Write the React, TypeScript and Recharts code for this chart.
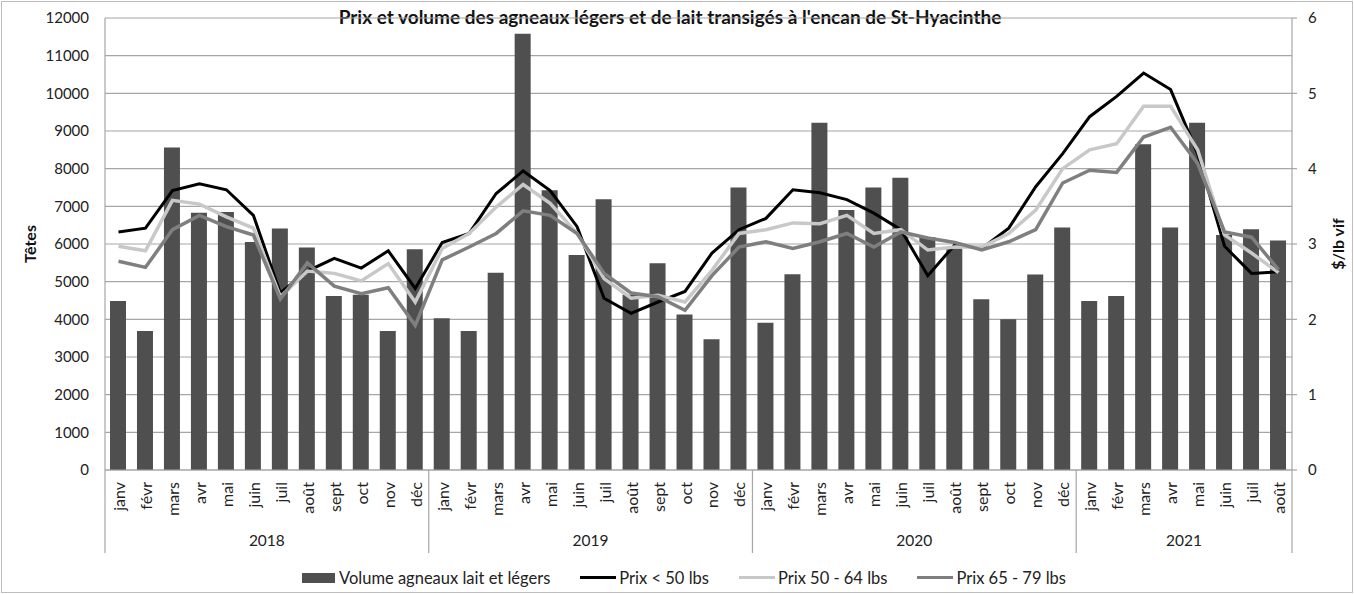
import { ComposedChart, Bar, Line, XAxis, YAxis, CartesianGrid, Legend } from 'recharts';

const years = ['2018', '2019', '2020', '2021'];
const monthNames = ['janv', 'févr', 'mars', 'avr', 'mai', 'juin', 'juil', 'août', 'sept', 'oct', 'nov', 'déc'];
const monthsPerYear = [12, 12, 12, 8];

const volume = [
  4490, 3690, 8560, 6830, 6850, 6050, 6410, 5910, 4620, 4650, 3690, 5860,
  4030, 3690, 5240, 11580, 7430, 5710, 7190, 4650, 5490, 4130, 3470, 7500,
  3910, 5200, 9220, 6900, 7500, 7760, 6180, 5880, 4530, 4000, 5190, 6440,
  4490, 4620, 8650, 6440, 9220, 6240, 6390, 6090,
];
const prixMoins50 = [
  3.16, 3.21, 3.71, 3.8, 3.72, 3.38, 2.35, 2.64, 2.81, 2.68, 2.91, 2.41,
  3.02, 3.14, 3.67, 3.97, 3.71, 3.23, 2.28, 2.08, 2.23, 2.37, 2.88, 3.19,
  3.34, 3.72, 3.68, 3.59, 3.41, 3.19, 2.58, 2.99, 2.94, 3.21, 3.76, 4.2,
  4.69, 4.96, 5.27, 5.05, 4.2, 2.97, 2.61, 2.63,
];
const prix50a64 = [
  2.97, 2.91, 3.58, 3.53, 3.36, 3.21, 2.3, 2.64, 2.61, 2.51, 2.74, 2.23,
  2.94, 3.14, 3.49, 3.79, 3.54, 3.14, 2.54, 2.28, 2.32, 2.23, 2.65, 3.14,
  3.19, 3.28, 3.27, 3.38, 3.14, 3.19, 2.92, 2.96, 2.96, 3.14, 3.45, 4.0,
  4.25, 4.33, 4.83, 4.83, 4.25, 3.12, 2.88, 2.62,
];
const prix65a79 = [
  2.77, 2.69, 3.19, 3.38, 3.23, 3.12, 2.27, 2.75, 2.44, 2.34, 2.42, 1.92,
  2.79, 2.96, 3.14, 3.44, 3.38, 3.14, 2.61, 2.35, 2.3, 2.12, 2.58, 2.96,
  3.03, 2.94, 3.03, 3.14, 2.96, 3.16, 3.08, 3.02, 2.92, 3.03, 3.19, 3.81,
  3.98, 3.95, 4.42, 4.55, 4.07, 3.16, 3.09, 2.66,
];
const leftTicks = [0, 1000, 2000, 3000, 4000, 5000, 6000, 7000, 8000, 9000, 10000, 11000, 12000];
const rightTicks = [0, 1, 2, 3, 4, 5, 6];
const legendOrder = ['volume', 'p50', 'p64', 'p79'];

const data = volume.map((v, i) => {
  let rest = i;
  let y = 0;
  while (rest >= monthsPerYear[y]) {
    rest -= monthsPerYear[y];
    y++;
  }
  return {
    key: i,
    month: monthNames[rest],
    monthIdx: rest,
    yearIdx: y,
    volume: v,
    p50: prixMoins50[i],
    p64: prix50a64[i],
    p79: prix65a79[i],
  };
});

const W = 1354;
const H = 594;
const LEFT_W = 105;
const RIGHT_W = 62;
const BAND = (W - LEFT_W - RIGHT_W) / data.length;
const FONT = 'Lato, "Noto Sans", sans-serif';
const AXIS = '#a6a6a6';

function MonthTick(props: any) {
  const { x, y, index } = props;
  const d = data[index];
  const ax = y; // axis line y (tickSize/tickMargin are 0)
  const left = x - BAND / 2;
  return (
    <g>
      <text
        x={x}
        y={ax + 12}
        transform={`rotate(-90, ${x}, ${ax + 12})`}
        textAnchor="end"
        dominantBaseline="central"
        fontSize={16}
        fontFamily={FONT}
        fill="#222"
      >
        {d.month}
      </text>
      {d.monthIdx === 0 && (
        <>
          <line x1={left} x2={left} y1={ax} y2={ax + 83} stroke={AXIS} strokeWidth={1.2} />
          <text
            x={left + (monthsPerYear[d.yearIdx] * BAND) / 2}
            y={ax + 76}
            textAnchor="middle"
            fontSize={15.5}
            fontFamily={FONT}
            fill="#222"
          >
            {years[d.yearIdx]}
          </text>
        </>
      )}
      {index === data.length - 1 && (
        <line x1={x + BAND / 2} x2={x + BAND / 2} y1={ax} y2={ax + 83} stroke={AXIS} strokeWidth={1.2} />
      )}
    </g>
  );
}

function SideTitle(props: any) {
  const { viewBox, text, cx } = props;
  const cy = viewBox.y + viewBox.height / 2;
  return (
    <text
      x={cx}
      y={cy}
      transform={`rotate(-90, ${cx}, ${cy})`}
      textAnchor="middle"
      dominantBaseline="central"
      fontSize={16}
      fontWeight="bold"
      fontFamily={FONT}
      fill="#111"
    >
      {text}
    </text>
  );
}

function LegendContent(props: any) {
  const items = [...(props.payload || [])].sort(
    (a: any, b: any) => legendOrder.indexOf(a.dataKey) - legendOrder.indexOf(b.dataKey),
  );
  return (
    <div
      style={{
        height: 41,
        display: 'flex',
        justifyContent: 'center',
        alignItems: 'center',
        paddingLeft: 44,
        boxSizing: 'border-box',
        paddingTop: 8,
        fontFamily: FONT,
        fontSize: 16.5,
        color: '#222',
      }}
    >
      {items.map((e: any) => (
        <div key={e.value} style={{ display: 'flex', alignItems: 'center', marginRight: 30 }}>
          {e.type === 'rect' ? (
            <span style={{ width: 33, height: 10, background: e.color, marginRight: 4 }} />
          ) : (
            <span style={{ width: 36, height: 3.5, background: e.color, marginRight: 3 }} />
          )}
          <span>{e.value}</span>
        </div>
      ))}
    </div>
  );
}

export default function App() {
  return (
    <div style={{ position: 'absolute', left: 0, top: 0, width: W, height: H, background: '#fff' }}>
      <div
        style={{
          position: 'absolute',
          left: 1,
          top: 1,
          width: W - 2,
          height: H - 2,
          border: '1px solid #bdbdbd',
          boxSizing: 'border-box',
        }}
      />
      <div
        style={{
          position: 'absolute',
          left: 0,
          width: W - 14,
          top: 6,
          textAlign: 'center',
          fontFamily: FONT,
          fontWeight: 'bold',
          fontSize: 19,
          lineHeight: '22px',
          color: '#111',
        }}
      >
        Prix et volume des agneaux légers et de lait transigés à l'encan de St-Hyacinthe
      </div>
      <div style={{ position: 'absolute', left: 0, top: 0 }}>
        <ComposedChart width={W} height={H} data={data} margin={{ top: 18, right: 0, bottom: 0, left: 0 }}>
          <CartesianGrid yAxisId="left" vertical={false} stroke={AXIS} strokeWidth={1.2} />
          <XAxis
            dataKey="key"
            interval={0}
            height={83}
            tickSize={0}
            tickMargin={0}
            tickLine={false}
            axisLine={{ stroke: AXIS, strokeWidth: 1.2 }}
            tick={<MonthTick />}
          />
          <YAxis
            yAxisId="left"
            width={LEFT_W}
            domain={[0, 12000]}
            ticks={leftTicks}
            interval={0}
            tickLine={false}
            tickSize={6}
            tickMargin={10}
            axisLine={{ stroke: AXIS, strokeWidth: 1.2 }}
            tick={{ fontSize: 15, fill: '#222', fontFamily: FONT }}
            label={<SideTitle text="Têtes" cx={29} />}
          />
          <YAxis
            yAxisId="right"
            orientation="right"
            width={RIGHT_W}
            domain={[0, 6]}
            ticks={rightTicks}
            interval={0}
            tickSize={5}
            tickMargin={11}
            tickLine={{ stroke: AXIS, strokeWidth: 1.2 }}
            axisLine={{ stroke: AXIS, strokeWidth: 1.2 }}
            tick={{ fontSize: 15, fill: '#222', fontFamily: FONT, textAnchor: 'start' }}
            label={<SideTitle text="$/lb vif" cx={1337} />}
          />
          <Legend verticalAlign="bottom" align="center" content={<LegendContent />} />
          <Bar
            yAxisId="left"
            dataKey="volume"
            name="Volume agneaux lait et légers"
            fill="#4f4f4f"
            barSize={16}
            legendType="rect"
            isAnimationActive={false}
          />
          <Line
            yAxisId="right"
            dataKey="p50"
            name="Prix < 50 lbs"
            stroke="#000000"
            strokeWidth={3}
            dot={false}
            legendType="line"
            isAnimationActive={false}
          />
          <Line
            yAxisId="right"
            dataKey="p64"
            name="Prix 50 - 64 lbs"
            stroke="#c8c8c8"
            strokeWidth={3.5}
            dot={false}
            legendType="line"
            isAnimationActive={false}
          />
          <Line
            yAxisId="right"
            dataKey="p79"
            name="Prix 65 - 79 lbs"
            stroke="#7f7f7f"
            strokeWidth={3.5}
            dot={false}
            legendType="line"
            isAnimationActive={false}
          />
        </ComposedChart>
      </div>
    </div>
  );
}
